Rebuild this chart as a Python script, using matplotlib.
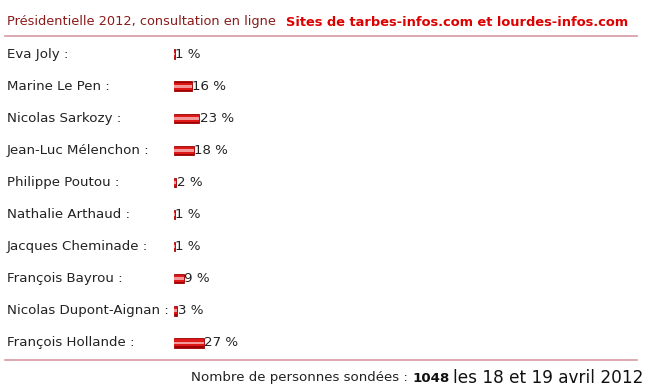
import matplotlib.pyplot as plt
import matplotlib.transforms as mtransforms

candidats = ["Eva Joly :", "Marine Le Pen :", "Nicolas Sarkozy :", "Jean-Luc Mélenchon :",
             "Philippe Poutou :", "Nathalie Arthaud :", "Jacques Cheminade :",
             "François Bayrou :", "Nicolas Dupont-Aignan :", "François Hollande :"]
scores = [1, 16, 23, 18, 2, 1, 1, 9, 3, 27]
titre = "Présidentielle 2012, consultation en ligne"
source = "Sites de tarbes-infos.com et lourdes-infos.com"
nb_sondes = 1048
dates = "les 18 et 19 avril 2012"

W, H = 650, 392
fig = plt.figure(figsize=(W / 100, H / 100), dpi=100)
fig.patch.set_facecolor("white")
fs = 9.6
txt_col = "#222222"

# axe des barres : 1 % ~ 1.1 px
left_px, top_px, bot_px = 174, 38, 359
ax = fig.add_axes([left_px / W, 1 - bot_px / H, (W - left_px) / W, (bot_px - top_px) / H])
ax.set_xlim(0, (W - left_px) / 1.1)
ax.set_ylim(len(candidats) - 0.5, -0.5)
ax.axis("off")

ypos = list(range(len(candidats)))
# barres avec un effet de degrade
ax.barh(ypos, scores, height=0.29, color="#a00000", linewidth=0.6, edgecolor="#a00000")
ax.barh(ypos, scores, height=0.22, color="#dc1818")
ax.barh(ypos, scores, height=0.09, color="#f29a9a")

for i, v in enumerate(scores):
    ax.text(v + 0.3, i, f"{v} %", va="center", ha="left", fontsize=fs, color=txt_col)

lab_tr = mtransforms.blended_transform_factory(fig.transFigure, ax.transData)
for i, nom in enumerate(candidats):
    ax.text(7 / W, i, nom, transform=lab_tr, va="center", ha="left", fontsize=fs, color=txt_col)

# titre
fig.text(7 / W, 1 - 22 / H, titre, fontsize=9.3, color="#8b1a1a", va="center", ha="left")
src = fig.text(286 / W, 1 - 22 / H, source, fontsize=9, color="#dd0000", va="center", ha="left",
               fontweight="bold")
fig.canvas.draw()
r = fig.canvas.get_renderer()
w = src.get_window_extent(r).width
src.set_fontsize(9 * 342 / w)

# lignes
fig.add_artist(plt.Line2D([5 / W, 637 / W], [1 - 36 / H] * 2, color="#d79aa2", lw=1.2))
fig.add_artist(plt.Line2D([5 / W, 637 / W], [1 - 360 / H] * 2, color="#d79aa2", lw=1.2))

# pied
ident = mtransforms.IdentityTransform()
t1 = fig.text(191 / W, 1 - 378 / H, "Nombre de personnes sondées : ", fontsize=fs,
              color=txt_col, va="center", ha="left")
fig.canvas.draw()
bb1 = t1.get_window_extent(r)
ymid = bb1.y0 + bb1.height / 2
t2 = fig.text(bb1.x1, ymid, str(nb_sondes), fontsize=fs, fontweight="bold", color="#111111",
              va="center", ha="left", transform=ident)
bb2 = t2.get_window_extent(r)
fig.text(bb2.x1 + 4, ymid, dates, fontsize=12.2, color="#111111",
         va="center", ha="left", transform=ident)

fig.savefig("out.png", dpi=100, facecolor="white")
